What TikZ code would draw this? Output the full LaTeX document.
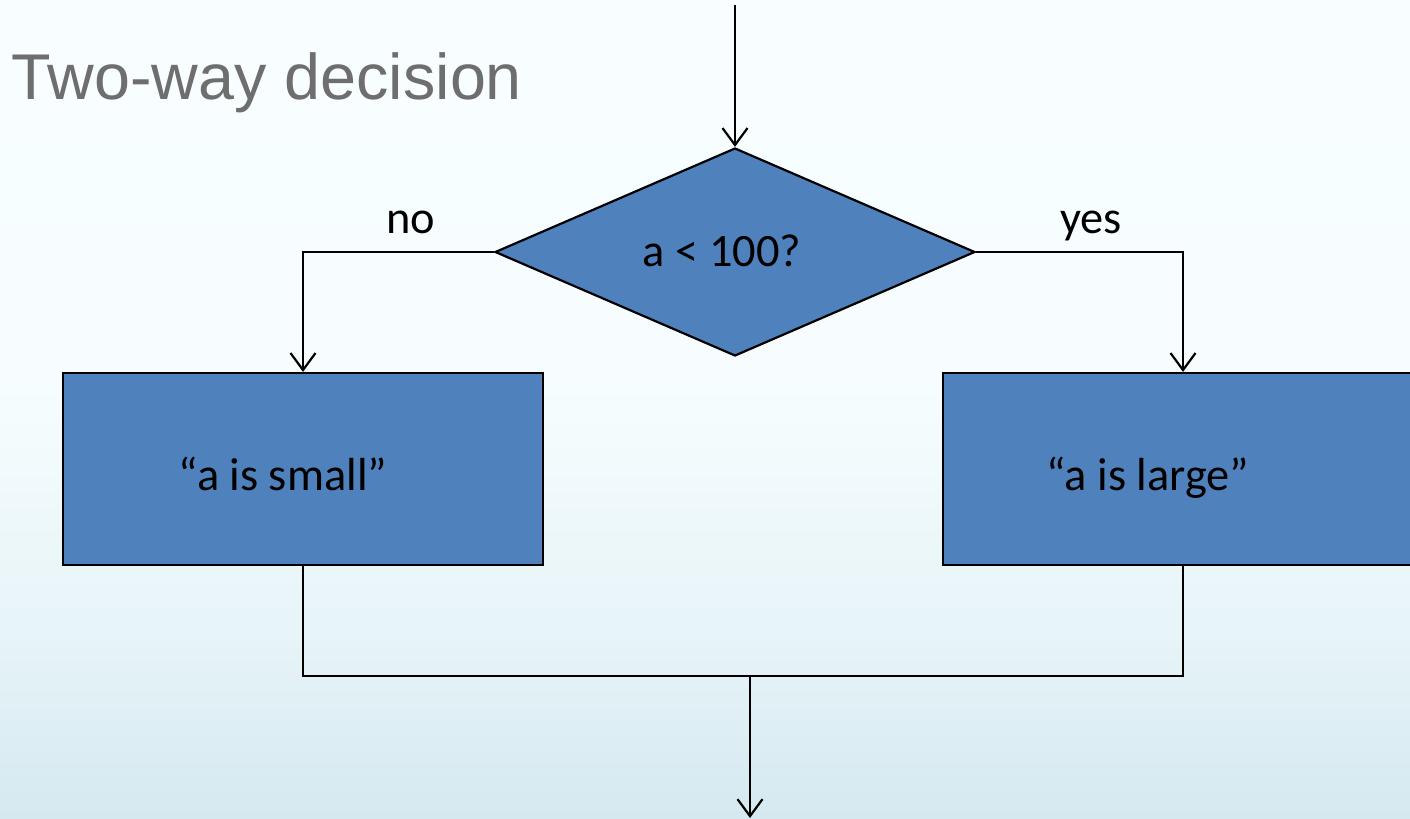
\documentclass[tikz,border=0pt]{standalone}
\usepackage{fontspec}
\setmainfont{Carlito}
\newfontfamily\titlefont{Liberation Sans}
\usetikzlibrary{shapes.geometric,arrows.meta}
\definecolor{boxblue}{HTML}{4F81BD}
\definecolor{titlegray}{HTML}{6E6E6E}
\definecolor{bgtop}{HTML}{F8FEFF}
\definecolor{bgbot}{HTML}{D5E9F0}
\pgfdeclareverticalshading{slidebg}{100bp}{color(0bp)=(bgbot); color(25bp)=(bgbot); color(36bp)=(bgbot!50!bgtop); color(52bp)=(bgtop!96!bgbot); color(75bp)=(bgtop); color(100bp)=(bgtop)}
\tikzset{
  flow/.style={draw=black,line width=0.22mm,fill=boxblue,inner sep=0pt,
    font=\fontsize{13.2}{15}\selectfont},
  decide/.style={flow,diamond,minimum width=48mm,minimum height=20.8mm},
  action/.style={flow,rectangle,minimum width=48mm,minimum height=19.2mm},
  line/.style={line width=0.22mm},
  arr/.style={line,-{Straight Barb[length=1.7mm,width=2.5mm,line width=0.22mm]}},
  tag/.style={font=\fontsize{13.2}{15}\selectfont,anchor=base}
}
\begin{document}
\begin{tikzpicture}[x=0.1mm,y=-0.1mm]
		\useasboundingbox (0,0) rectangle (1410,819);
		\clip (0,0) rectangle (1410,819);
		\shade[shading=slidebg] (0,0) rectangle (1410,819);
		\node[anchor=base west,text=titlegray,inner sep=0pt,font=\titlefont\fontsize{18.4}{21}\selectfont] (title) at (11,99) {Two-way decision};

		\node[decide] (cond) at (735,252) {};
		\node[tag] (condtxt) at (722,266) {a < 100?};
		\node[action] (small) at (303,469) {};
		\node[tag] (smalltxt) at (283,490) {“a is small”};
		\node[action] (large) at (1183,469) {};
		\node[tag] (largetxt) at (1148,490) {“a is large”};

		\coordinate (entry) at (735,5);
		\coordinate (join) at (750,676);
		\coordinate (exit) at (750,818);

		\draw[arr] (entry) -- (cond.north);
		\draw[arr] (cond.west) -| (small.north);
		\draw[arr] (cond.east) -| (large.north);
		\node[tag] (no) at (411,233) {no};
		\node[tag] (yes) at (1091,233) {yes};
		\draw[line] (small.south) |- (join) -| (large.south);
		\draw[arr] (join) -- (exit);
\end{tikzpicture}
\end{document}
